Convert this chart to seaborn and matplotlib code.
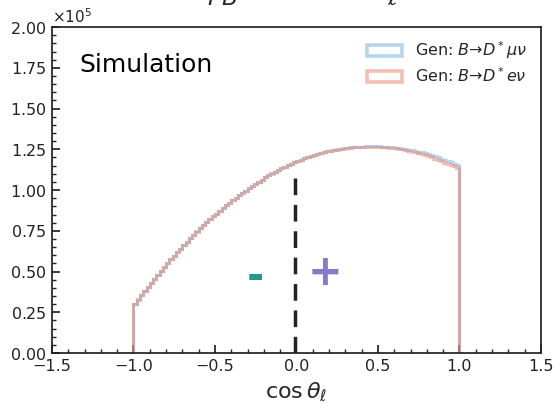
import numpy as np
import pandas as pd
import matplotlib
matplotlib.use("Agg")
import matplotlib.pyplot as plt
import seaborn as sns
from matplotlib.patches import Patch
from matplotlib.ticker import AutoMinorLocator

# cos(theta_l) histogram: 100 bins on [-1, 1] plus one empty bin on each side,
# counts in units of 1e5
n_bins = 102
bin_range = (-1.02, 1.02)

mu_counts = [0.0,
    0.303, 0.329, 0.355, 0.381, 0.405, 0.432, 0.456, 0.481, 0.504, 0.529,
    0.552, 0.575, 0.597, 0.619, 0.641, 0.663, 0.684, 0.705, 0.725, 0.746,
    0.766, 0.784, 0.803, 0.821, 0.839, 0.856, 0.874, 0.890, 0.906, 0.923,
    0.938, 0.953, 0.968, 0.983, 0.997, 1.011, 1.025, 1.038, 1.052, 1.064,
    1.079, 1.090, 1.102, 1.113, 1.124, 1.134, 1.144, 1.153, 1.162, 1.171,
    1.179, 1.187, 1.195, 1.202, 1.209, 1.216, 1.222, 1.228, 1.233, 1.238,
    1.240, 1.245, 1.249, 1.253, 1.257, 1.259, 1.262, 1.264, 1.267, 1.267,
    1.267, 1.268, 1.268, 1.269, 1.269, 1.268, 1.267, 1.265, 1.264, 1.262,
    1.260, 1.258, 1.254, 1.252, 1.248, 1.243, 1.240, 1.235, 1.231, 1.225,
    1.219, 1.213, 1.207, 1.200, 1.193, 1.186, 1.179, 1.171, 1.162, 1.153,
    0.0]
e_counts = [0.0,
    0.302, 0.328, 0.354, 0.380, 0.405, 0.431, 0.455, 0.480, 0.504, 0.528,
    0.551, 0.575, 0.596, 0.619, 0.640, 0.662, 0.683, 0.705, 0.724, 0.745,
    0.765, 0.784, 0.802, 0.820, 0.838, 0.856, 0.873, 0.889, 0.906, 0.922,
    0.937, 0.953, 0.967, 0.982, 0.996, 1.011, 1.024, 1.037, 1.051, 1.063,
    1.078, 1.090, 1.101, 1.112, 1.123, 1.133, 1.143, 1.153, 1.162, 1.170,
    1.178, 1.186, 1.194, 1.201, 1.208, 1.215, 1.221, 1.227, 1.232, 1.237,
    1.239, 1.244, 1.248, 1.252, 1.255, 1.258, 1.261, 1.263, 1.265, 1.266,
    1.265, 1.266, 1.266, 1.266, 1.266, 1.265, 1.264, 1.262, 1.260, 1.258,
    1.256, 1.253, 1.249, 1.246, 1.241, 1.236, 1.231, 1.226, 1.220, 1.214,
    1.207, 1.200, 1.193, 1.185, 1.177, 1.169, 1.161, 1.153, 1.145, 1.137,
    0.0]

labels = ["Gen: $B$→$D^*\\mu\\nu$", "Gen: $B$→$D^*e\\nu$"]
colors = ["#6baed6", "#e8806c"]
boundary = -0.01   # dashed separator position
boundary_top = 1.11e5

sns.set_theme(style="white")
plt.rcParams["font.family"] = ["DejaVu Sans"]

edges = np.linspace(bin_range[0], bin_range[1], n_bins + 1)
centers = 0.5 * (edges[:-1] + edges[1:])
df = pd.concat([
    pd.DataFrame({"cos": centers, "w": np.array(mu_counts) * 1e5, "ch": labels[0]}),
    pd.DataFrame({"cos": centers, "w": np.array(e_counts) * 1e5, "ch": labels[1]}),
], ignore_index=True)

fig = plt.figure(figsize=(5.56, 4.04), dpi=100)
ax = fig.add_axes([0.0935, 0.126, 0.8795, 0.807])

for lab, col in zip(labels, colors):
    sub = df[df["ch"] == lab]
    sns.histplot(data=sub, x="cos", weights="w", bins=n_bins, binrange=bin_range,
                 element="step", fill=False, color=col, linewidth=2.2,
                 alpha=0.5, solid_joinstyle="miter", ax=ax)

ax.plot([boundary, boundary], [0, boundary_top], color="#222222",
        linestyle=(0, (4.8, 2.8)), linewidth=2.5)

ax.text(-0.25, 0.466e5, "-", color="#1f9a8c", fontsize=30, fontweight="bold",
        ha="center", va="center")
ax.text(0.175, 0.49e5, "+", color="#8a78cc", fontsize=30, fontweight="bold",
        ha="center", va="center")
ax.text(-1.33, 1.77e5, "Simulation", fontsize=18, ha="left", va="center",
        color="black")

handles = [Patch(facecolor="none", edgecolor=c, linewidth=2.6, alpha=0.5) for c in colors]
ax.legend(handles, labels, loc="upper right", frameon=False, fontsize=11.5,
          bbox_to_anchor=(1.0, 1.007), handlelength=2.2, handletextpad=0.8,
          labelspacing=0.35)

ax.set_xlim(-1.5, 1.5)
ax.set_ylim(0, 2e5)
ax.set_xticks([-1.5, -1.0, -0.5, 0.0, 0.5, 1.0, 1.5])
ax.set_yticks(np.arange(0, 2.01e5, 0.25e5))
ax.ticklabel_format(axis="y", style="sci", scilimits=(0, 0), useMathText=True)
ax.yaxis.get_offset_text().set_fontsize(11)
ax.xaxis.set_minor_locator(AutoMinorLocator(5))
ax.yaxis.set_minor_locator(AutoMinorLocator(5))
ax.tick_params(which="both", direction="in", bottom=True, left=True,
               labelsize=11.5, colors="#222222")
ax.tick_params(which="major", length=6, pad=4)
ax.tick_params(which="minor", length=3)
for s in ax.spines.values():
    s.set_color("#222222")
ax.set_xlabel(r"$\cos\theta_\ell$", fontsize=16, labelpad=5)
ax.set_ylabel("")

fig.text(0.33, 1.0, r"$A_{FB}$ for $\cos\theta_\ell$", fontsize=24,
         ha="left", va="baseline")

fig.savefig("out.png", dpi=100)
